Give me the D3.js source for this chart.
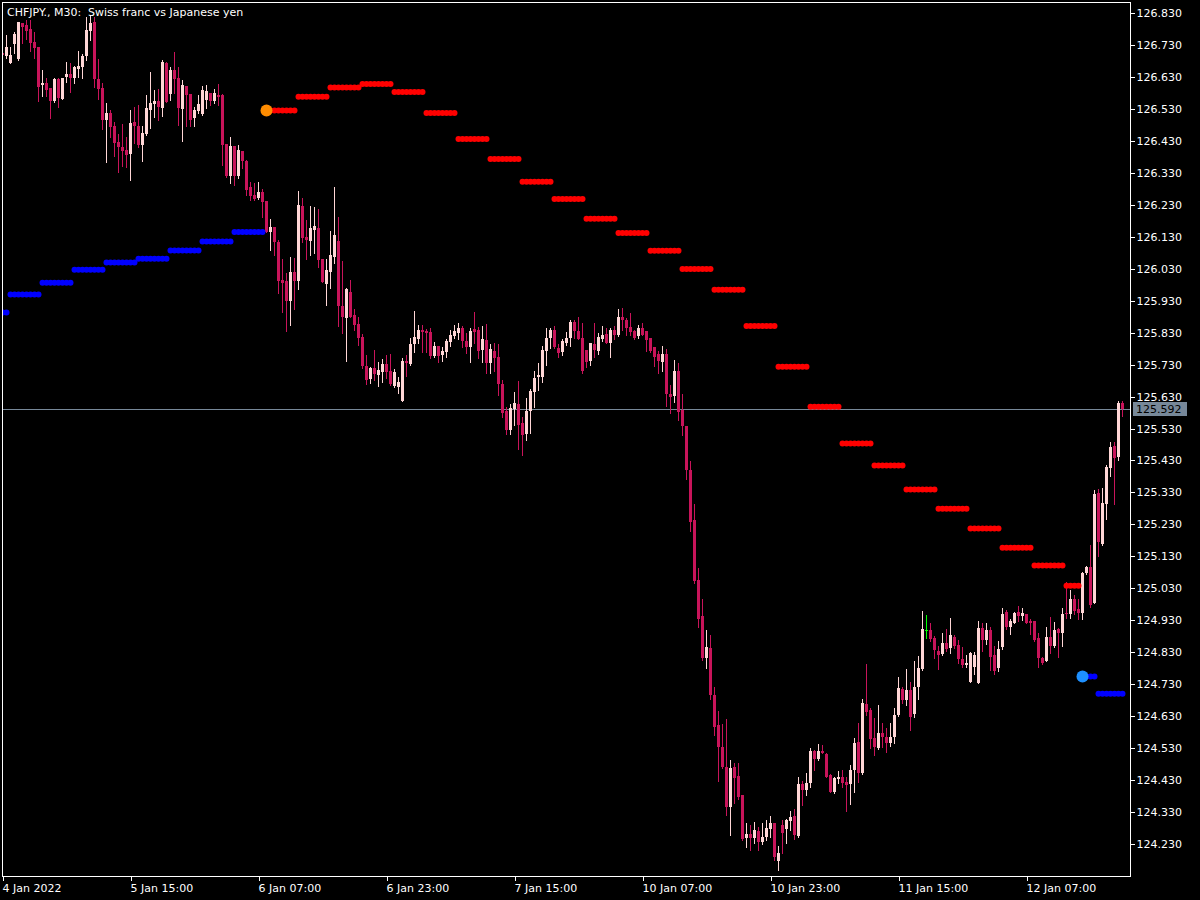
<!DOCTYPE html>
<html><head><meta charset="utf-8">
<script src="https://cdn.jsdelivr.net/npm/d3@7"></script>
<style>html,body{margin:0;padding:0;background:#000;overflow:hidden}</style>
</head><body>
<svg id="chart" width="1200" height="900"></svg>
<script>
// ---------- DATA ----------
const symbolTitle = "CHFJPY., M30:  Swiss franc vs Japanese yen";

const opens = [
126.706,126.694,126.675,126.733,126.685,126.798,126.793,126.780,126.739,126.724,
126.606,126.610,126.595,126.555,126.624,126.562,126.631,126.639,126.626,126.656,
126.660,126.694,126.775,126.802,126.625,126.596,126.496,126.518,126.475,126.427,
126.412,126.402,126.389,126.489,126.477,126.417,126.450,126.527,126.546,126.556,
126.533,126.675,126.577,126.652,126.627,126.529,126.602,126.577,126.501,126.522,
126.514,126.558,126.581,126.556,126.575,126.574,126.420,126.320,126.414,126.320,
126.398,126.368,126.287,126.262,126.251,126.270,126.241,126.146,126.160,126.115,
125.995,125.990,125.930,126.020,125.990,126.226,126.130,126.118,126.151,126.157,
126.060,125.982,126.020,126.068,126.117,125.914,125.877,125.957,125.884,125.857,
125.816,125.726,125.684,125.720,125.698,125.708,125.732,125.711,125.663,125.661,
125.617,125.742,125.732,125.795,125.809,125.838,125.835,125.832,125.757,125.788,
125.761,125.770,125.802,125.820,125.830,125.845,125.805,125.784,125.841,125.838,
125.776,125.807,125.736,125.773,125.753,125.669,125.585,125.526,125.592,125.606,
125.546,125.513,125.586,125.645,125.690,125.690,125.774,125.814,125.838,125.783,
125.769,125.797,125.813,125.862,125.836,125.813,125.776,125.742,125.794,125.773,
125.811,125.826,125.798,125.838,125.821,125.879,125.870,125.848,125.836,125.819,
125.845,125.836,125.813,125.785,125.762,125.739,125.762,125.639,125.631,125.711,
125.589,125.538,125.401,125.245,125.057,124.944,124.813,124.842,124.697,124.601,
124.535,124.472,124.345,124.470,124.444,124.382,124.248,124.260,124.248,124.272,
124.237,124.253,124.276,124.295,124.178,124.290,124.276,124.303,124.318,124.255,
124.418,124.399,124.420,124.522,124.495,124.522,124.512,124.446,124.394,124.433,
124.441,124.425,124.418,124.462,124.550,124.451,124.668,124.649,124.561,124.530,
124.578,124.566,124.547,124.566,124.634,124.714,124.679,124.712,124.637,124.720,
124.777,124.900,124.900,124.874,124.835,124.825,124.858,124.843,124.877,124.853,
124.808,124.790,124.738,124.783,124.735,124.905,124.869,124.900,124.822,124.780,
124.846,124.957,124.910,124.923,124.957,124.942,124.950,124.929,124.929,124.874,
124.811,124.804,124.879,124.848,124.902,124.889,124.954,124.950,124.996,124.965,
124.952,125.077,125.098,124.985,125.329,125.169,125.294,125.406,125.475,125.442,
125.609];

const highs = [
126.712,126.761,126.725,126.769,126.803,126.798,126.808,126.808,126.769,126.724,
126.652,126.626,126.595,126.626,126.626,126.628,126.677,126.673,126.664,126.710,
126.701,126.819,126.825,126.819,126.685,126.610,126.548,126.527,126.490,126.452,
126.483,126.441,126.527,126.537,126.542,126.475,126.574,126.646,126.589,126.592,
126.683,126.677,126.662,126.708,126.660,126.619,126.602,126.577,126.537,126.574,
126.602,126.605,126.581,126.592,126.608,126.577,126.420,126.441,126.414,126.417,
126.398,126.370,126.302,126.299,126.302,126.279,126.241,126.185,126.162,126.120,
126.060,126.016,126.066,126.064,126.273,126.251,126.183,126.226,126.222,126.216,
126.060,126.060,126.149,126.287,126.191,126.054,125.970,125.995,125.903,125.878,
125.826,125.760,125.722,125.776,125.738,125.747,125.760,125.763,125.715,125.690,
125.750,125.760,125.814,125.898,125.854,125.854,125.841,125.844,125.802,125.788,
125.786,125.809,125.838,125.854,125.859,125.851,125.830,125.844,125.893,125.847,
125.851,125.857,125.795,125.799,125.795,125.682,125.597,125.607,125.644,125.679,
125.567,125.625,125.653,125.710,125.734,125.788,125.844,125.844,125.851,125.795,
125.809,125.833,125.868,125.870,125.879,125.861,125.776,125.799,125.861,125.828,
125.851,125.844,125.844,125.851,125.904,125.907,125.875,125.890,125.838,125.853,
125.861,125.836,125.813,125.785,125.773,125.788,125.779,125.665,125.745,125.734,
125.637,125.538,125.429,125.294,125.095,124.997,124.898,124.885,124.722,124.645,
124.605,124.620,124.492,124.484,124.484,124.382,124.296,124.290,124.300,124.284,
124.295,124.306,124.318,124.295,124.224,124.306,124.307,124.334,124.339,124.441,
124.428,124.451,124.530,124.524,124.543,124.540,124.516,124.449,124.439,124.459,
124.462,124.439,124.477,124.561,124.608,124.683,124.793,124.655,124.623,124.665,
124.610,124.592,124.608,124.655,124.752,124.722,124.777,124.738,124.801,124.818,
124.960,124.947,124.921,124.881,124.850,124.891,124.902,124.936,124.884,124.869,
124.846,124.822,124.832,124.832,124.929,124.921,124.921,124.908,124.848,124.866,
124.968,124.962,124.933,124.957,124.975,124.968,124.950,124.933,124.929,124.891,
124.816,124.910,124.939,124.926,124.905,124.968,125.051,125.025,125.009,124.996,
125.082,125.100,125.166,125.338,125.340,125.343,125.416,125.489,125.489,125.617,
125.617];

const lows = [
126.690,126.689,126.673,126.704,126.683,126.737,126.748,126.712,126.689,126.556,
126.571,126.571,126.500,126.552,126.537,126.560,126.615,126.584,126.610,126.631,
126.626,126.683,126.746,126.598,126.560,126.468,126.365,126.443,126.383,126.331,
126.352,126.349,126.308,126.423,126.412,126.368,126.448,126.470,126.504,126.496,
126.508,126.551,126.558,126.579,126.480,126.431,126.477,126.477,126.475,126.516,
126.511,126.532,126.542,126.548,126.542,126.355,126.317,126.299,126.292,126.313,
126.344,126.261,126.245,126.245,126.247,126.193,126.144,126.087,126.073,125.953,
125.896,125.836,125.854,125.903,125.966,126.115,126.060,126.073,126.078,126.035,
125.987,125.917,125.971,126.047,125.851,125.830,125.742,125.878,125.838,125.792,
125.719,125.669,125.672,125.682,125.663,125.674,125.687,125.667,125.661,125.642,
125.615,125.694,125.730,125.770,125.799,125.770,125.770,125.750,125.755,125.739,
125.742,125.753,125.788,125.813,125.809,125.784,125.766,125.739,125.797,125.750,
125.739,125.705,125.705,125.711,125.635,125.565,125.513,125.513,125.541,125.467,
125.447,125.494,125.515,125.597,125.651,125.674,125.729,125.781,125.781,125.753,
125.760,125.791,125.788,125.813,125.810,125.705,125.721,125.730,125.753,125.764,
125.805,125.797,125.754,125.810,125.819,125.839,125.824,125.824,125.811,125.813,
125.821,125.771,125.769,125.725,125.705,125.711,125.601,125.577,125.612,125.557,
125.509,125.373,125.209,125.046,124.908,124.807,124.782,124.685,124.572,124.427,
124.468,124.322,124.259,124.357,124.370,124.243,124.222,124.211,124.232,124.211,
124.230,124.243,124.253,124.180,124.149,124.201,124.234,124.274,124.245,124.253,
124.352,124.383,124.408,124.460,124.493,124.514,124.439,124.392,124.391,124.420,
124.408,124.334,124.355,124.394,124.425,124.449,124.634,124.530,124.509,124.526,
124.535,124.519,124.537,124.547,124.632,124.670,124.665,124.587,124.628,124.683,
124.775,124.874,124.866,124.811,124.777,124.822,124.835,124.827,124.843,124.797,
124.783,124.783,124.736,124.762,124.733,124.835,124.856,124.775,124.762,124.772,
124.839,124.902,124.887,124.921,124.929,124.931,124.921,124.887,124.866,124.785,
124.793,124.801,124.827,124.846,124.814,124.850,124.936,124.936,124.950,124.933,
124.933,125.075,124.971,124.983,125.131,125.166,125.246,125.382,125.294,125.430,
125.569];

const closes = [
126.700,126.723,126.699,126.765,126.801,126.787,126.775,126.737,126.720,126.600,
126.612,126.589,126.556,126.624,126.563,126.627,126.639,126.626,126.660,126.664,
126.694,126.777,126.798,126.625,126.593,126.496,126.516,126.473,126.424,126.412,
126.399,126.387,126.485,126.475,126.417,126.454,126.533,126.548,126.556,126.535,
126.677,126.553,126.652,126.625,126.533,126.605,126.574,126.496,126.527,126.546,
126.589,126.585,126.556,126.579,126.568,126.417,126.320,126.414,126.320,126.402,
126.368,126.276,126.258,126.249,126.270,126.240,126.146,126.162,126.112,125.990,
125.986,125.930,126.020,125.991,126.230,126.126,126.120,126.157,126.164,126.058,
125.989,126.026,126.073,126.136,125.914,125.880,125.968,125.880,125.854,125.812,
125.724,125.682,125.719,125.701,125.713,125.732,125.708,125.669,125.707,125.676,
125.741,125.734,125.795,125.816,125.838,125.832,125.830,125.757,125.788,125.757,
125.773,125.805,125.823,125.835,125.845,125.805,125.784,125.835,125.833,125.774,
125.810,125.736,125.779,125.752,125.669,125.580,125.526,125.593,125.611,125.541,
125.510,125.585,125.648,125.687,125.698,125.776,125.814,125.838,125.784,125.766,
125.804,125.812,125.863,125.836,125.811,125.711,125.737,125.799,125.776,125.817,
125.823,125.798,125.838,125.821,125.879,125.868,125.845,125.832,125.813,125.844,
125.824,125.807,125.771,125.754,125.741,125.762,125.639,125.628,125.711,125.582,
125.538,125.401,125.239,125.052,124.933,124.813,124.845,124.697,124.597,124.535,
124.470,124.347,124.467,124.438,124.376,124.245,124.260,124.248,124.274,124.237,
124.253,124.279,124.297,124.188,124.201,124.264,124.305,124.314,124.258,124.418,
124.399,124.420,124.522,124.495,124.522,124.516,124.441,124.394,124.436,124.439,
124.420,124.415,124.462,124.547,124.451,124.672,124.644,124.558,124.535,124.577,
124.566,124.547,124.566,124.634,124.717,124.679,124.712,124.628,124.720,124.780,
124.902,124.900,124.871,124.837,124.821,124.860,124.839,124.884,124.848,124.808,
124.790,124.796,124.827,124.821,124.905,124.869,124.900,124.816,124.772,124.839,
124.950,124.908,124.929,124.954,124.942,124.954,124.923,124.923,124.869,124.811,
124.797,124.879,124.848,124.898,124.889,124.950,124.950,124.996,124.960,124.952,
125.079,125.098,124.978,125.325,125.176,125.298,125.411,125.473,125.437,125.609,
125.592];

// indicator steps (bar index ranges and level)
const supportStart = [0, 2, 10, 18, 26, 34, 42, 50, 58, 270, 274];
const supportEnd   = [1, 9, 17, 25, 33, 41, 49, 57, 65, 273, 280];
const supportLevel = [125.893,125.949,125.986,126.027,126.049,126.061,126.087,126.115,126.145,124.754,124.700];

const resistanceStart = [66,74,82,90,98,106,114,122,130,138,146,154,162,170,178,186,194,202,210,218,226,234,242,250,258,266];
const resistanceEnd   = [73,81,89,97,105,113,121,129,137,145,153,161,169,177,185,193,201,209,217,225,233,241,249,257,265,269];
const resistanceLevel = [126.525,126.568,126.597,126.608,126.583,126.517,126.436,126.373,126.302,126.248,126.186,126.142,126.086,126.029,125.964,125.851,125.723,125.598,125.483,125.414,125.339,125.279,125.217,125.157,125.101,125.038];

const signalBar   = [66, 270];
const signalLevel = [126.525, 124.754];
const signalType  = ["sell", "buy"];

const currentPrice = 125.592;

const priceTicks = [126.83,126.73,126.63,126.53,126.43,126.33,126.23,126.13,126.03,125.93,125.83,125.73,125.63,125.53,125.43,125.33,125.23,125.13,125.03,124.93,124.83,124.73,124.63,124.53,124.43,124.33,124.23];
const timeTickBars   = [0, 32, 64, 96, 128, 160, 192, 224, 256];
const timeTickLabels = ["4 Jan 2022","5 Jan 15:00","6 Jan 07:00","6 Jan 23:00","7 Jan 15:00","10 Jan 07:00","10 Jan 23:00","11 Jan 15:00","12 Jan 07:00"];

// ---------- DRAW ----------
const FONT = "DejaVu Sans";
const svg = d3.select("#chart");
svg.append("rect").attr("width",1200).attr("height",900).attr("fill","#000");

const L = 2, T = 2, R = 1130, B = 876;
const x = d3.scaleLinear().domain([0, 280]).range([2.5, 1122.5]);
const y = d3.scaleLinear().domain([124.23, 126.83]).range([844, 13]);

svg.append("clipPath").attr("id","plotclip").append("rect")
  .attr("x", L+1).attr("y", T+1).attr("width", R-L-1).attr("height", B-T-1);
const plot = svg.append("g").attr("clip-path","url(#plotclip)");

// current price line
plot.append("line").attr("x1",L).attr("x2",R)
  .attr("y1",Math.round(y(currentPrice))+0.5).attr("y2",Math.round(y(currentPrice))+0.5)
  .attr("stroke","#778899").attr("stroke-width",1);

const bars = d3.range(opens.length).map(i => ({i, o:opens[i], h:highs[i], l:lows[i], c:closes[i]}));
const BULL = "#ffd6d6", BEAR = "#c8145a", DOJI = "#00ff00";
const col = d => d.c > d.o ? BULL : (d.c < d.o ? BEAR : DOJI);

const cg = plot.append("g").attr("shape-rendering","crispEdges");
cg.selectAll("rect.wick").data(bars).join("rect").attr("class","wick")
  .attr("x", d => x(d.i) - 0.5).attr("width", 1)
  .attr("y", d => Math.round(y(d.h)))
  .attr("height", d => Math.max(1, Math.round(y(d.l)) - Math.round(y(d.h)) + 1))
  .attr("fill", col);
cg.selectAll("rect.body").data(bars).join("rect").attr("class","body")
  .attr("x", d => x(d.i) - 1.5).attr("width", 3)
  .attr("y", d => Math.round(y(Math.max(d.o, d.c))))
  .attr("height", d => Math.max(1, Math.round(y(Math.min(d.o, d.c))) - Math.round(y(Math.max(d.o, d.c)))))
  .attr("fill", col);

// indicator dots
function stepDots(starts, ends, levels) {
  const pts = [];
  starts.forEach((s, k) => { for (let b = s; b <= ends[k]; b++) pts.push({b, v: levels[k]}); });
  return pts;
}
const dg = plot.append("g");
dg.selectAll("circle.sup").data(stepDots(supportStart, supportEnd, supportLevel)).join("circle")
  .attr("class","sup").attr("cx", d => x(d.b)).attr("cy", d => y(d.v)).attr("r", 3).attr("fill", "#0000ff");
dg.selectAll("circle.res").data(stepDots(resistanceStart, resistanceEnd, resistanceLevel)).join("circle")
  .attr("class","res").attr("cx", d => x(d.b)).attr("cy", d => y(d.v)).attr("r", 3).attr("fill", "#ff0000");
dg.selectAll("circle.sig").data(signalBar.map((b,k)=>({b, v:signalLevel[k], t:signalType[k]}))).join("circle")
  .attr("class","sig").attr("cx", d => x(d.b)).attr("cy", d => y(d.v)).attr("r", 6)
  .attr("fill", d => d.t === "sell" ? "#ff8c00" : "#1e90ff");

// frame
svg.append("rect").attr("x", L+0.5).attr("y", T+0.5).attr("width", R-L).attr("height", B-T)
  .attr("fill","none").attr("stroke","#fff").attr("stroke-width",1).attr("shape-rendering","crispEdges");

// price axis
const yAxis = d3.axisRight(y).tickValues(priceTicks).tickFormat(d3.format(".3f")).tickSize(4).tickPadding(2);
const ya = svg.append("g").attr("transform", `translate(${R+0.5},0)`).call(yAxis);
ya.select(".domain").remove();
ya.selectAll("line").attr("stroke","#fff").attr("shape-rendering","crispEdges");
ya.selectAll("text").attr("fill","#fff").style("font-family",FONT).style("font-size","11px");

// time axis
const xAxis = d3.axisBottom(x).tickValues(timeTickBars).tickFormat((d,k) => timeTickLabels[k]).tickSize(4).tickPadding(2);
const xa = svg.append("g").attr("transform", `translate(0,${B+0.5})`).call(xAxis);
xa.select(".domain").remove();
xa.selectAll("line").attr("stroke","#fff").attr("shape-rendering","crispEdges");
xa.selectAll("text").attr("fill","#fff").attr("text-anchor","start").attr("x",-0.5).attr("dy","0.85em")
  .style("font-family",FONT).style("font-size","11px");

// current price label
const cpY = Math.round(y(currentPrice));
svg.append("rect").attr("x", R+3).attr("y", cpY-7).attr("width", 54).attr("height", 14).attr("fill","#778899");
svg.append("text").attr("x", R+6).attr("y", cpY).attr("dy","0.35em").text(d3.format(".3f")(currentPrice))
  .attr("fill","#000").style("font-family",FONT).style("font-size","11px");

// title
svg.append("text").attr("x", 7).attr("y", 16).attr("xml:space","preserve").style("white-space","pre")
  .text(symbolTitle)
  .attr("fill","#fff").style("font-family",FONT).style("font-size","11px");
</script>
</body></html>
